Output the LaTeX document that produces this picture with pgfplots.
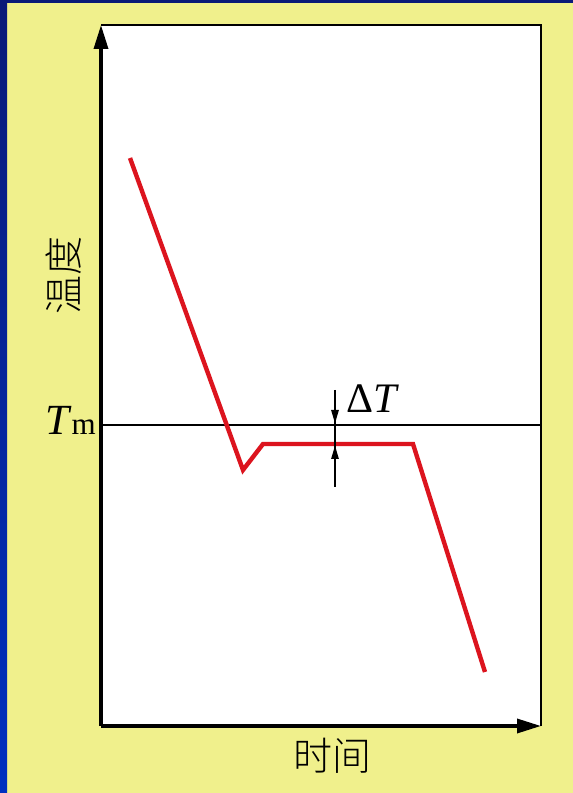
\documentclass[border=0pt]{standalone}
\usepackage{pgfplots}
\pgfplotsset{compat=1.18}
\usepackage{fontspec}
\newfontfamily\cjk{Noto Sans CJK SC Light}
\newfontfamily\serif{Liberation Serif}
\usetikzlibrary{arrows.meta}
\definecolor{bgyellow}{RGB}{240,240,140}
\definecolor{navytop}{RGB}{10,26,120}
\definecolor{bluebot}{RGB}{0,48,192}
\definecolor{curvered}{RGB}{220,20,30}
\begin{document}
\begin{tikzpicture}[x=1pt,y=1pt]
\fill[bgyellow] (0,0) rectangle (573,793);
\shade[bottom color=bluebot, top color=navytop] (0,0) rectangle (7,793);
\fill[navytop] (0,790) rectangle (573,793);
\begin{axis}[
  at={(101pt,67pt)}, anchor=south west,
  scale only axis, width=440pt, height=701pt,
  xmin=101, xmax=541, ymin=67, ymax=768,
  axis lines=none, ticks=none,
  axis background/.style={fill=white},
  clip=false,
]
% frame
\draw[black, line width=2.2pt] (axis cs:101,768) -- (axis cs:541,768) -- (axis cs:541,67);
\draw[black, line width=3.4pt, -{Triangle[length=24pt,width=14pt]}] (axis cs:101,67) -- (axis cs:101,768);
\draw[black, line width=3.4pt, -{Triangle[length=24pt,width=14pt]}] (axis cs:101,67) -- (axis cs:541,67);
% Tm line
\addplot[black, line width=1.8pt] coordinates {(101,368) (541,368)};
% curve
\addplot[curvered, line width=4.4pt, line join=miter] coordinates {
  (130,635) (243,323) (263,349) (413,349) (485,121)};
% Delta T arrows
\addplot[black, line width=2.6pt] coordinates {(335,403) (335,306)};
\addplot[black, line width=2.6pt, -{Triangle[length=14pt,width=7pt]}] coordinates {(335,390) (335,369)};
\addplot[black, line width=2.6pt, -{Triangle[length=14pt,width=7pt]}] coordinates {(335,320) (335,348)};
\node[anchor=base west, inner sep=0pt, font=\serif\fontsize{42}{42}\selectfont] at (axis cs:346,380) {Δ\textit{T}};
\node[anchor=base east, inner sep=0pt] at (axis cs:96,358) {\serif\fontsize{43}{43}\selectfont\textit{T}\fontsize{31}{31}\selectfont m};
\node[rotate=90, inner sep=0pt, font=\cjk\fontsize{39}{39}\selectfont] at (axis cs:64,276+241) {温度};
\node[inner sep=0pt, font=\cjk\fontsize{39}{39}\selectfont] at (axis cs:332,37) {时间};
\end{axis}
\end{tikzpicture}
\end{document}
